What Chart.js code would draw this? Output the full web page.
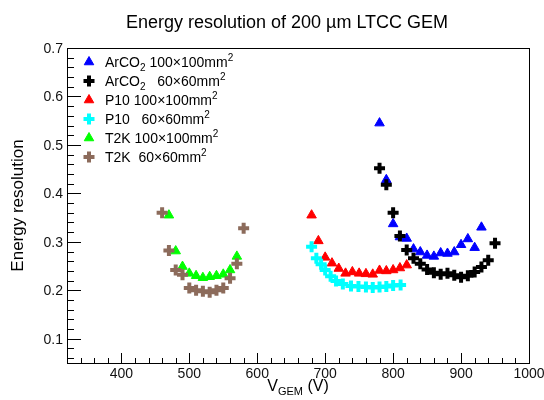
<!DOCTYPE html>
<html>
<head>
<meta charset="utf-8">
<script src="https://cdn.jsdelivr.net/npm/chart.js@4.4.1/dist/chart.umd.min.js"></script>
<style>
  html, body { margin: 0; padding: 0; background: #fff; }
  #wrap { width: 544px; height: 400px; }
</style>
</head>
<body>
<div id="wrap"><canvas id="chart" width="544" height="400"></canvas></div>
<script>
// values (V_GEM in volts, energy resolution)
const arco2BigV = [780, 790, 800, 810, 820, 830, 840, 850, 860, 870, 880, 890, 900, 910, 920, 930];
const arco2BigR = [0.545, 0.428, 0.337, 0.310, 0.307, 0.285, 0.279, 0.272, 0.270, 0.277, 0.276, 0.279, 0.294, 0.306, 0.288, 0.330];

const arco2SmallV = [780, 790, 800, 810, 820, 830, 840, 850, 860, 870, 880, 890, 900, 910, 920, 930, 940, 950];
const arco2SmallR = [0.452, 0.418, 0.360, 0.312, 0.283, 0.266, 0.255, 0.243, 0.236, 0.233, 0.235, 0.231, 0.227, 0.230, 0.238, 0.248, 0.262, 0.297];

const p10BigV = [680, 690, 700, 710, 720, 730, 740, 750, 760, 770, 780, 790, 800, 810, 820];
const p10BigR = [0.355, 0.302, 0.268, 0.256, 0.245, 0.235, 0.238, 0.235, 0.234, 0.233, 0.241, 0.240, 0.242, 0.246, 0.252];

const p10SmallV = [680, 687, 694, 700, 708, 716, 726, 738, 749, 760, 770, 780, 790, 800, 811];
const p10SmallR = [0.290, 0.266, 0.254, 0.242, 0.229, 0.219, 0.213, 0.209, 0.208, 0.207, 0.206, 0.207, 0.208, 0.210, 0.211];

const t2kBigV = [470, 480, 490, 500, 510, 520, 530, 540, 550, 560, 570];
const t2kBigR = [0.355, 0.281, 0.249, 0.235, 0.230, 0.226, 0.228, 0.230, 0.233, 0.242, 0.270];

const t2kSmallV = [460, 470, 480, 490, 500, 510, 520, 530, 540, 550, 560, 570, 580];
const t2kSmallR = [0.360, 0.282, 0.242, 0.232, 0.205, 0.200, 0.198, 0.196, 0.200, 0.205, 0.225, 0.255, 0.328];

// axes
const xMin = 320, xMax = 1000;
const yMin = 0.05, yMax = 0.7;
const xTickLabels = [400, 500, 600, 700, 800, 900, 1000];
const yTickLabels = [0.1, 0.2, 0.3, 0.4, 0.5, 0.6, 0.7];

// legend text, pieces are [text, 'sub' | 'sup' | undefined]
const legendLabels = [
  [['ArCO'], ['2', 'sub'], [' 100\u00d7100mm'], ['2', 'sup']],
  [['ArCO'], ['2', 'sub'], ['   60\u00d760mm'], ['2', 'sup']],
  [['P10 100\u00d7100mm'], ['2', 'sup']],
  [['P10   60\u00d760mm'], ['2', 'sup']],
  [['T2K 100\u00d7100mm'], ['2', 'sup']],
  [['T2K  60\u00d760mm'], ['2', 'sup']]
];

const FONT = '"Liberation Sans", Arial, Helvetica, sans-serif';

const toPoints = (xs, ys) => xs.map((v, i) => ({ x: v, y: ys[i] }));

const triangle = color => ({
  pointStyle: 'triangle', pointRadius: 5.5, borderWidth: 1,
  backgroundColor: color, borderColor: color
});
const plus = color => ({
  pointStyle: 'cross', pointRadius: 5.5, borderWidth: 4,
  backgroundColor: color, borderColor: color
});

const series = [
  { data: toPoints(arco2BigV, arco2BigR), ...triangle('#0000ff') },
  { data: toPoints(arco2SmallV, arco2SmallR), ...plus('#000000') },
  { data: toPoints(p10BigV, p10BigR), ...triangle('#ff0000') },
  { data: toPoints(p10SmallV, p10SmallR), ...plus('#00ffff') },
  { data: toPoints(t2kBigV, t2kBigR), ...triangle('#00ff00') },
  { data: toPoints(t2kSmallV, t2kSmallR), ...plus('#8c6b5b') }
];
// later entries are painted on top
series.forEach((s, i) => { s.order = series.length - i; s.pointHoverRadius = s.pointRadius; });

// draws text with sub/superscript pieces
function drawRich(ctx, parts, x, y, size, align) {
  const big = size + 'px ' + FONT;
  const small = Math.round(size * 0.7) + 'px ' + FONT;
  let total = 0;
  for (const [t, mode] of parts) {
    ctx.font = mode ? small : big;
    total += ctx.measureText(t).width;
  }
  let cx = align === 'center' ? x - total / 2 : x;
  ctx.textAlign = 'left';
  ctx.textBaseline = 'alphabetic';
  for (const [t, mode] of parts) {
    ctx.font = mode ? small : big;
    const dy = mode === 'sub' ? size * 0.25 : mode === 'sup' ? -size * 0.42 : 0;
    ctx.fillText(t, cx, y + dy);
    cx += ctx.measureText(t).width;
  }
}

const decorations = {
  id: 'decorations',
  afterDraw(chart) {
    const { ctx, chartArea: a, scales: { x, y } } = chart;
    ctx.save();
    ctx.strokeStyle = '#000';
    ctx.fillStyle = '#000';
    ctx.lineWidth = 1;
    ctx.strokeRect(a.left + 0.5, a.top + 0.5, a.right - a.left, a.bottom - a.top);

    // ticks, drawn inward like the original
    ctx.beginPath();
    for (let v = xMin; v <= xMax; v += 20) {
      const px = Math.round(x.getPixelForValue(v)) + 0.5;
      const len = v % 100 === 0 ? 10 : 5;
      ctx.moveTo(px, a.bottom);
      ctx.lineTo(px, a.bottom - len);
    }
    for (let k = 3; k <= 35; k++) {
      const py = Math.round(y.getPixelForValue(k * 0.02)) + 0.5;
      const len = k % 5 === 0 ? 14 : 7;
      ctx.moveTo(a.left, py);
      ctx.lineTo(a.left + len, py);
    }
    ctx.stroke();

    // tick labels
    ctx.font = '14px ' + FONT;
    ctx.fillStyle = '#111';
    ctx.textBaseline = 'alphabetic';
    ctx.textAlign = 'center';
    xTickLabels.forEach(v => ctx.fillText(String(v), x.getPixelForValue(v), a.bottom + 15));
    ctx.textAlign = 'right';
    yTickLabels.forEach(v => ctx.fillText(v.toFixed(1), a.left - 4, y.getPixelForValue(v) + 5));

    // titles
    ctx.fillStyle = '#000';
    ctx.textAlign = 'center';
    ctx.font = '18px ' + FONT;
    ctx.fillText('Energy resolution of 200 \u00b5m LTCC GEM', 287, 28);

    drawRich(ctx, [['V'], ['GEM', 'sub'], [' (V)']], (a.left + a.right) / 2, 391, 16, 'center');

    ctx.save();
    ctx.translate(23, (a.top + a.bottom) / 2);
    ctx.rotate(-Math.PI / 2);
    ctx.textAlign = 'center';
    ctx.font = '17px ' + FONT;
    ctx.fillText('Energy resolution', 0, 0);
    ctx.restore();

    // legend inside the frame
    series.forEach((s, i) => {
      const ly = 62 + i * 19;
      ctx.fillStyle = s.backgroundColor;
      ctx.strokeStyle = s.borderColor;
      ctx.lineWidth = s.borderWidth;
      Chart.helpers.drawPoint(ctx, {
        pointStyle: s.pointStyle, radius: s.pointRadius, borderWidth: s.borderWidth, rotation: 0
      }, 89, ly);
      ctx.fillStyle = '#000';
      drawRich(ctx, legendLabels[i], 105, ly + 5, 14, 'left');
    });
    ctx.restore();
  }
};

new Chart(document.getElementById('chart'), {
  type: 'scatter',
  data: { datasets: series },
  options: {
    responsive: false,
    animation: false,
    devicePixelRatio: 1,
    layout: { padding: { left: 67, right: 15, top: 48, bottom: 37 } },
    plugins: { legend: { display: false }, tooltip: { enabled: false } },
    scales: {
      x: { type: 'linear', min: xMin, max: xMax, display: false },
      y: { type: 'linear', min: yMin, max: yMax, display: false }
    }
  },
  plugins: [decorations]
});
</script>
</body>
</html>
